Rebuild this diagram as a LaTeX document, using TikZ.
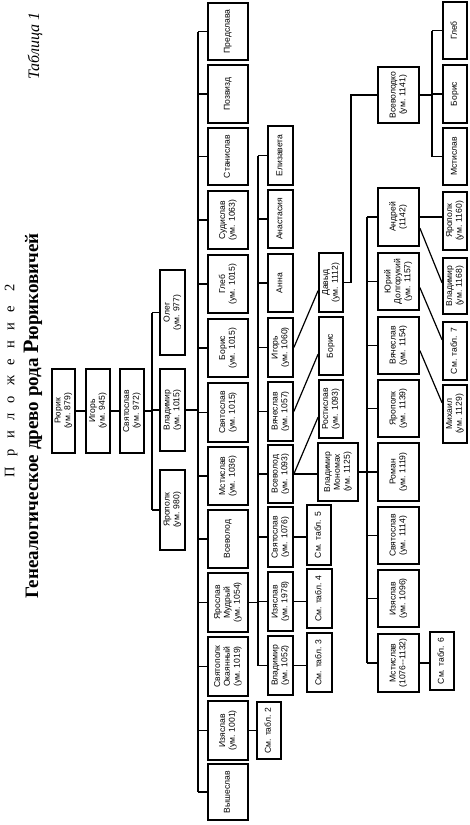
\documentclass[tikz,border=0pt]{standalone}
\usepackage{fontspec}
\setmainfont{Liberation Serif}
\newfontfamily\boxfont{Liberation Sans}
\usepackage{graphicx}
\usetikzlibrary{calc}
\tikzset{
  box/.style={draw, line width=1.7pt, inner sep=0pt, font=\boxfont\fontsize{8.6}{9.8}\selectfont, align=center},
  conn/.style={line width=1.2pt},
}
\newcommand\famnode[6]{\node[box, minimum width={(#3-#2)*1pt}, minimum height={(#5-#4)*1pt}] (#1) at ({(#2+#3)/2},{(#4+#5)/2}) {\rotatebox{90}{\begin{tabular}{@{}c@{}}#6\end{tabular}}};}
\begin{document}
\begin{tikzpicture}[x=1pt,y=-1pt]
\useasboundingbox (0,0) rectangle (470,825);
\fill[white] (0,0) rectangle (470,825);
% titles
\node[rotate=90, inner sep=0pt, font=\itshape\fontsize{16}{16}\selectfont] (tab) at (35,46) {Таблица 1};
\node[rotate=90, inner sep=0pt, font=\fontsize{14.5}{14.5}\selectfont\addfontfeature{LetterSpace=72}] (pril) at (11,381) {Приложение 2};
\node[rotate=90, inner sep=0pt, font=\bfseries\fontsize{19}{19}\selectfont] (title) at (33,416) {Генеалогическое древо рода {\fontsize{22}{22}\selectfont Р}юриковичей};
% column 1-2
\famnode{rurik}{52}{75}{369}{453}{Рюрик\\(ум. 879)}
\famnode{igor}{86}{110}{369}{453}{Игорь\\(ум. 945)}
\famnode{svyat}{120}{144}{369}{453}{Святослав\\(ум. 972)}
\famnode{oleg}{160}{185}{270}{355}{Олег\\(ум. 977)}
\famnode{vladimir}{160}{185}{369}{451}{Владимир\\(ум. 1015)}
\famnode{yaropolk}{160}{185}{470}{550}{Ярополк\\(ум. 980)}
% column 3
\famnode{predslava}{208}{248}{3}{60}{Предслава}
\famnode{pozvizd}{208}{248}{65}{123}{Позвизд}
\famnode{stanislav}{208}{248}{128}{185}{Станислав}
\famnode{sudislav}{208}{248}{191}{249}{Судислав\\(ум. 1063)}
\famnode{gleb}{208}{248}{255}{313}{Глеб\\(ум. 1015)}
\famnode{boris}{208}{248}{319}{377}{Борис\\(ум. 1015)}
\famnode{svyatoslavA}{208}{248}{383}{442}{Святослав\\(ум. 1015)}
\famnode{mstislavA}{208}{248}{447}{505}{Мстислав\\(ум. 1036)}
\famnode{vsevolodA}{208}{248}{510}{568}{Всеволод}
\famnode{yaroslav}{208}{248}{573}{632}{Ярослав\\Мудрый\\(ум. 1054)}
\famnode{svyatopolk}{208}{248}{637}{696}{Святополк\\Окаянный\\(ум. 1019)}
\famnode{izyaslavA}{208}{248}{701}{760}{Изяслав\\(ум. 1001)}
\famnode{vysheslav}{208}{248}{764}{820}{Вышеслав}
\famnode{sm2}{257}{281}{702}{759}{См. табл. 2}
% column 4
\famnode{elizaveta}{268}{293}{126}{185}{Елизавета}
\famnode{anastasia}{268}{293}{190}{248}{Анастасия}
\famnode{anna}{268}{293}{254}{312}{Анна}
\famnode{igorB}{268}{293}{318}{377}{Игорь\\(ум. 1060)}
\famnode{vyacheslavB}{268}{293}{382}{441}{Вячеслав\\(ум. 1057)}
\famnode{vsevolodB}{268}{293}{445}{503}{Всеволод\\(ум. 1093)}
\famnode{svyatoslavB}{268}{293}{507}{567}{Святослав\\(ум. 1076)}
\famnode{izyaslavB}{268}{293}{572}{631}{Изяслав\\(ум. 1978)}
\famnode{vladimirB}{268}{293}{636}{695}{Владимир\\(ум. 1052)}
% column 5
\famnode{sm3}{307}{332}{633}{692}{См. табл. 3}
\famnode{sm4}{307}{332}{569}{628}{См. табл. 4}
\famnode{sm5}{307}{331}{505}{565}{См. табл. 5}
\famnode{monomakh}{318}{358}{443}{501}{Владимир\\Мономах\\(ум. 1125)}
\famnode{rostislav}{319}{343}{380}{438}{Ростислав\\(ум. 1093)}
\famnode{borisB}{319}{343}{317}{375}{Борис}
\famnode{davyd}{319}{343}{253}{312}{Давыд\\(ум. 1112)}
% column 6
\famnode{andrey}{378}{419}{188}{246}{Андрей\\(1142)}
\famnode{yuri}{378}{419}{253}{310}{Юрий\\Долгорукий\\(ум. 1157)}
\famnode{vyacheslavC}{378}{419}{317}{374}{Вячеслав\\(ум. 1154)}
\famnode{yaropolkC}{378}{419}{380}{437}{Ярополк\\(ум. 1139)}
\famnode{roman}{378}{419}{443}{501}{Роман\\(ум. 1119)}
\famnode{svyatoslavC}{378}{419}{507}{564}{Святослав\\(ум. 1114)}
\famnode{izyaslavC}{378}{419}{570}{627}{Изяслав\\(ум. 1096)}
\famnode{mstislavC}{378}{419}{634}{692}{Мстислав\\(1076--1132)}
\famnode{vsevolodko}{378}{419}{67}{123}{Всеволодко\\(ум. 1141)}
% column 7
\famnode{glebD}{443}{467}{2}{59}{Глеб}
\famnode{borisD}{443}{467}{65}{123}{Борис}
\famnode{mstislavD}{443}{467}{128}{185}{Мстислав}
\famnode{yaropolkD}{443}{467}{192}{250}{Ярополк\\(ум. 1160)}
\famnode{vladimirD}{443}{467}{258}{314}{Владимир\\(ум. 1168)}
\famnode{sm7}{443}{467}{322}{380}{См. табл. 7}
\famnode{mikhail}{443}{467}{385}{443}{Михаил\\(ум. 1129)}
\famnode{sm6}{430}{454}{632}{690}{См. табл. 6}
% bar coordinates
\coordinate (b1) at (152,0);
\coordinate (b3) at (198,0);
\coordinate (b4) at (258,0);
\coordinate (b6) at (367,0);
\coordinate (dv) at (351,0);
\coordinate (bV) at (432,0);
% connectors
\draw[conn] (rurik.east) -- (igor.west);
\draw[conn] (igor.east) -- (svyat.west);
\draw[conn] (svyat.east) -- (svyat.east -| b1);
\draw[conn] (oleg.west -| b1) -- (yaropolk.west -| b1);
\foreach \c in {oleg,vladimir,yaropolk} \draw[conn] (\c.west) -- (\c.west -| b1);
\draw[conn] (vladimir.east) -- (vladimir.east -| b3);
\draw[conn] (predslava.west -| b3) -- (vysheslav.west -| b3);
\foreach \c in {predslava,pozvizd,stanislav,sudislav,gleb,boris,svyatoslavA,mstislavA,vsevolodA,yaroslav,svyatopolk,izyaslavA,vysheslav}
  \draw[conn] (\c.west) -- (\c.west -| b3);
\draw[conn] (izyaslavA.east) -- (izyaslavA.east -| sm2.west);
\draw[conn] (yaroslav.east) -- (yaroslav.east -| b4);
\draw[conn] (elizaveta.west -| b4) -- (vladimirB.west -| b4);
\foreach \c in {elizaveta,anastasia,anna,igorB,vyacheslavB,vsevolodB,svyatoslavB,izyaslavB,vladimirB}
  \draw[conn] (\c.west) -- (\c.west -| b4);
\draw[conn] (svyatoslavB.east) -- (svyatoslavB.east -| sm5.west);
\draw[conn] (izyaslavB.east) -- (izyaslavB.east -| sm4.west);
\draw[conn] (vladimirB.east) -- (vladimirB.east -| sm3.west);
\draw[conn] (vsevolodB.east) -- (vsevolodB.east -| monomakh.west);
\draw[conn] (igorB.east) -- ($(davyd.west)+(0,8)$);
\draw[conn] (vyacheslavB.east) -- ($(borisB.west)+(0,8)$);
\draw[conn] (vsevolodB.east) -- ($(rostislav.west)+(0,8)$);
\draw[conn] (monomakh.east) -- (monomakh.east -| b6);
\draw[conn] (andrey.west -| b6) -- (mstislavC.west -| b6);
\foreach \c in {andrey,yuri,vyacheslavC,yaropolkC,roman,svyatoslavC,izyaslavC,mstislavC}
  \draw[conn] (\c.west) -- (\c.west -| b6);
\draw[conn] (mstislavC.east) -- (mstislavC.east -| sm6.west);
\draw[conn] (davyd.east) -- (davyd.east -| dv) |- (vsevolodko.west);
\draw[conn] (vsevolodko.east) -- (vsevolodko.east -| bV);
\draw[conn] (glebD.west -| bV) -- (mstislavD.west -| bV);
\foreach \c in {glebD,borisD,mstislavD} \draw[conn] (\c.west) -- (\c.west -| bV);
\draw[conn] (andrey.east) -- (andrey.east -| yaropolkD.west);
\draw[conn] ($(andrey.east)+(0,11)$) -- ($(vladimirD.west)+(0,-3)$);
\draw[conn] ($(yuri.east)+(0,6)$) -- ($(sm7.west)+(0,-11)$);
\draw[conn] ($(vyacheslavC.east)+(0,5)$) -- ($(mikhail.west)+(0,-11)$);
\end{tikzpicture}
\end{document}
